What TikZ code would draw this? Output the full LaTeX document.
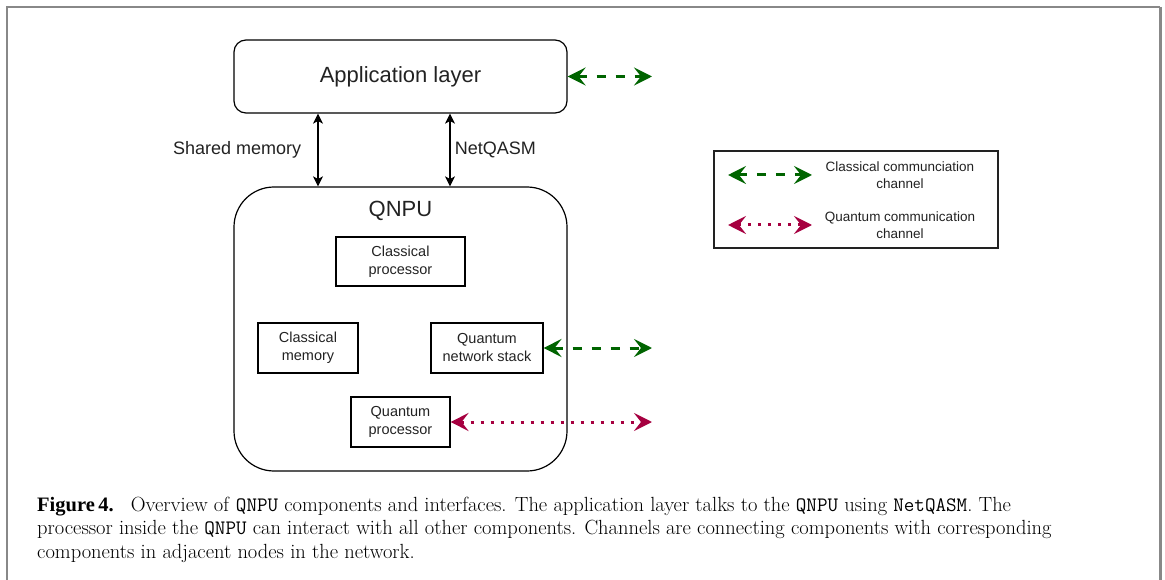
\documentclass[tikz,border=0pt]{standalone}
\usepackage{fontspec}
\setsansfont{Liberation Sans}
\newfontfamily\figtagfont{Liberation Serif}
\usetikzlibrary{arrows.meta,positioning}
\definecolor{chgreen}{RGB}{0,100,0}
\definecolor{qcrimson}{RGB}{166,0,64}
\definecolor{framegray}{RGB}{136,136,136}
\definecolor{inktext}{RGB}{34,34,34}
\tikzset{
  layerbox/.style={draw, line width=1.2pt, rounded corners=12pt, minimum width=333pt, minimum height=73pt, font=\sffamily\fontsize{22}{26}\selectfont, text=inktext},
  unitbox/.style={draw, line width=1.2pt, rounded corners=40pt, minimum width=333pt, minimum height=284pt},
  partbox/.style={draw, line width=1.1pt, minimum height=50pt, inner sep=2pt, align=center, font=\sffamily\fontsize{14.5}{18}\selectfont, text=inktext},
  iflabel/.style={font=\sffamily\fontsize{18}{20}\selectfont, text=inktext},
  ifarrow/.style={line width=1.1pt, arrows={Stealth[length=10pt,width=10pt,inset=2.5pt]-Stealth[length=10pt,width=10pt,inset=2.5pt]}},
  classical/.style={chgreen, line width=3pt, dash pattern=on 9pt off 10pt, arrows={Stealth[length=18pt,width=18pt,inset=7pt]-Stealth[length=18pt,width=18pt,inset=7pt]}},
  quantum/.style={qcrimson, line width=3pt, dash pattern=on 3pt off 7pt, arrows={Stealth[length=18pt,width=18pt,inset=7pt]-Stealth[length=18pt,width=18pt,inset=7pt]}},
  legendtext/.style={align=center, font=\sffamily\fontsize{13.5}{17}\selectfont, text=inktext},
  captext/.style={align=left, anchor=base west, inner sep=0pt, font=\fontsize{20.5}{23.5}\selectfont}
}
\begin{document}
\begin{tikzpicture}[x=1pt, y=-1pt]
\useasboundingbox (0,0) rectangle (1165,580);
% page frame
\draw[framegray, line width=2pt] (7,580) -- (7,7) -- (1160,7);
\draw[framegray, line width=3pt] (1160,7) -- (1160,580);

% Application layer and QNPU
\node[layerbox] (app) at (400.5,76.5) {Application layer};
\node[unitbox] (qnpu) at (400.5,329) {};
\node[font=\sffamily\fontsize{22}{26}\selectfont, text=inktext] (qnputitle) at (400.5,211) {QNPU};

% components inside the QNPU
\node[partbox, minimum width=129pt, minimum height=49pt] (cproc) at (400.5,261.5) {Classical\\processor};
\node[partbox, minimum width=100pt] (cmem) at (308,348) {Classical\\memory};
\node[partbox, minimum width=112pt] (qns) at (487,348) {Quantum\\network stack};
\node[partbox, minimum width=99pt] (qproc) at (400.5,422) {Quantum\\processor};

% interfaces between the layers
\draw[ifarrow] ([xshift=-82.5pt]app.south) -- node[iflabel, left=13pt] (shmem) {Shared memory} ([xshift=-82.5pt]qnpu.north);
\draw[ifarrow] ([xshift=49.5pt]app.south) -- node[iflabel, right=1pt] (nqasm) {NetQASM} ([xshift=49.5pt]qnpu.north);

% channels to adjacent nodes
\coordinate (appout) at (652,76.5);
\coordinate (qnsout) at (652,348);
\coordinate (qprocout) at (652,422);
\draw[classical] (app.east) -- (appout);
\draw[classical] (qns.east) -- (qnsout);
\draw[quantum] (qproc.east) -- (qprocout);

% legend
\node[draw=inktext, line width=1.2pt, minimum width=284pt, minimum height=97pt] (legend) at (856,199.5) {};
\coordinate (lgcl) at (728,175);
\coordinate (lgcr) at (812,175);
\coordinate (lgql) at (728,225);
\coordinate (lgqr) at (812,225);
\draw[classical] (lgcl) -- (lgcr);
\draw[quantum] (lgql) -- (lgqr);
\node[legendtext] (lgctext) at (900,175) {Classical communciation\\channel};
\node[legendtext] (lgqtext) at (900,225) {Quantum communication\\channel};

% caption
\node[captext] (caption) at (37,558) {{\figtagfont\bfseries Figure\,4.}\hspace{9pt} Overview of \texttt{QNPU} components and interfaces. The application layer talks to the \texttt{QNPU} using \texttt{NetQASM}. The\\
processor inside the \texttt{QNPU} can interact with all other components. Channels are connecting components with corresponding\\
components in adjacent nodes in the network.};
\end{tikzpicture}
\end{document}
